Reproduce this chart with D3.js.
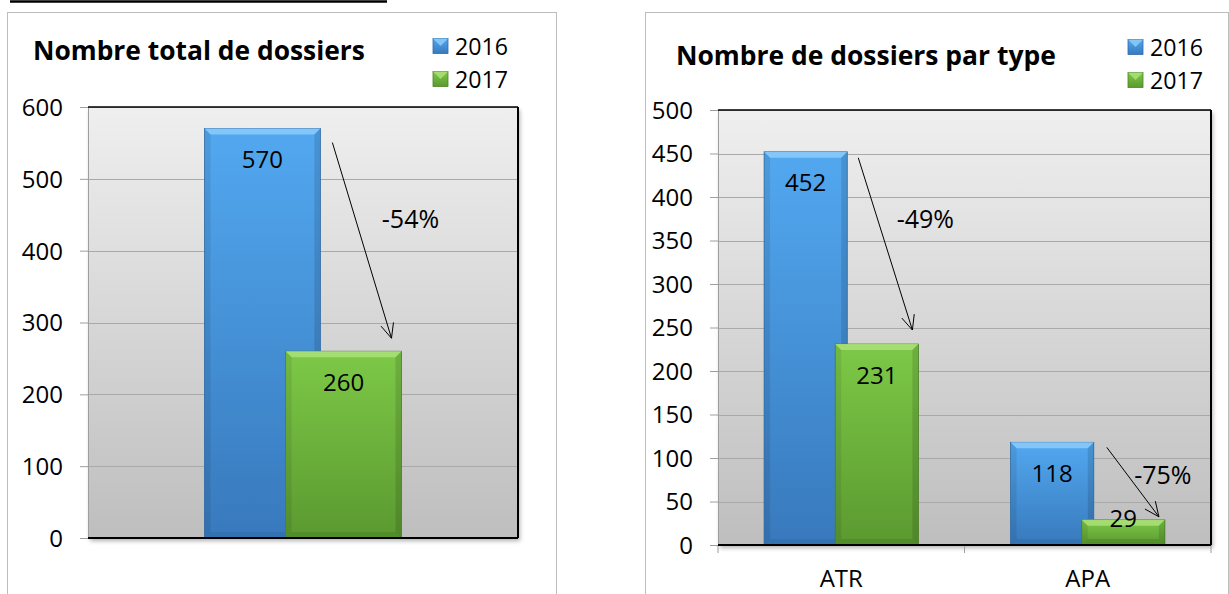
<!DOCTYPE html>
<html>
<head>
<meta charset="utf-8">
<script src="https://cdn.jsdelivr.net/npm/d3@7"></script>
<style>
  html, body { margin: 0; padding: 0; background: #fff; }
  svg { display: block; }
  text { font-family: "Open Sans", "Noto Sans", sans-serif; fill: #000; }
</style>
</head>
<body>
<svg id="chart" width="1229" height="594"></svg>
<script>
// ---------------- DATA ----------------
const years = ["2016", "2017"];

const totalTitle = "Nombre total de dossiers";
const totalCategories = ["Total"];
const total2016 = [570];
const total2017 = [260];
const totalTicks = [0, 100, 200, 300, 400, 500, 600];

const typeTitle = "Nombre de dossiers par type";
const typeCategories = ["ATR", "APA"];
const type2016 = [452, 118];
const type2017 = [231, 29];
const typeTicks = [0, 50, 100, 150, 200, 250, 300, 350, 400, 450, 500];

// ---------------- SETUP ----------------
const svg = d3.select("#chart");
const defs = svg.append("defs");

function vGrad(id, stops) {
  const g = defs.append("linearGradient").attr("id", id)
    .attr("x1", 0).attr("y1", 0).attr("x2", 0).attr("y2", 1);
  stops.forEach(([o, c]) => g.append("stop").attr("offset", o).attr("stop-color", c));
}
vGrad("plotBg", [[0, "#EFEFEF"], [1, "#BEBEBE"]]);
vGrad("blueG", [[0, "#52A8F0"], [1, "#3879BC"]]);
vGrad("greenG", [[0, "#7DC947"], [1, "#5B9930"]]);

const shadow = defs.append("filter").attr("id", "shadow")
  .attr("x", "-5%").attr("y", "-5%").attr("width", "115%").attr("height", "115%");
shadow.append("feDropShadow").attr("dx", 2).attr("dy", 3)
  .attr("stdDeviation", 2).attr("flood-color", "#000").attr("flood-opacity", 0.3);

const seriesStyle = [
  { grad: "url(#blueG)", top: "#8ECBFA", edge: "#2F6DAA", bottom: "#2E6BA6" },
  { grad: "url(#greenG)", top: "#ACE07A", edge: "#4C8427", bottom: "#477F24" }
];

// top decorative underline (cropped heading)
svg.append("line").attr("x1", 10).attr("x2", 387).attr("y1", 1.5).attr("y2", 1.5)
  .attr("stroke", "#000").attr("stroke-width", 2.5);

function fitText(sel, targetWidth, startSize) {
  sel.style("font-size", startSize + "px");
  const len = sel.node().getComputedTextLength();
  sel.style("font-size", (startSize * targetWidth / len) + "px");
}

function drawBar(g, x, yTop, w, yBase, st) {
  const h = yBase - yTop;
  const b = Math.min(6, h / 2, w / 2);
  g.append("rect").attr("x", x).attr("y", yTop).attr("width", w).attr("height", h)
    .attr("fill", st.grad).attr("stroke", st.edge).attr("stroke-width", 0.8);
  g.append("polygon").attr("points",
    [[x, yTop], [x + w, yTop], [x + w - b, yTop + b], [x + b, yTop + b]].map(p => p.join(",")).join(" "))
    .attr("fill", st.top).attr("opacity", 0.85);
  g.append("polygon").attr("points",
    [[x, yTop], [x + b, yTop + b], [x + b, yBase - b], [x, yBase]].map(p => p.join(",")).join(" "))
    .attr("fill", "#000").attr("opacity", 0.08);
  g.append("polygon").attr("points",
    [[x + w, yTop], [x + w - b, yTop + b], [x + w - b, yBase - b], [x + w, yBase]].map(p => p.join(",")).join(" "))
    .attr("fill", "#000").attr("opacity", 0.12);
  g.append("polygon").attr("points",
    [[x, yBase], [x + b, yBase - b], [x + w - b, yBase - b], [x + w, yBase]].map(p => p.join(",")).join(" "))
    .attr("fill", st.bottom).attr("opacity", 0.5);
}

function drawArrow(g, x1, y1, x2, y2) {
  g.append("line").attr("x1", x1).attr("y1", y1).attr("x2", x2).attr("y2", y2)
    .attr("stroke", "#000").attr("stroke-width", 1);
  const ang = Math.atan2(y2 - y1, x2 - x1);
  const L = 16, spread = 0.42;
  [ang + Math.PI - spread, ang + Math.PI + spread].forEach(a => {
    g.append("line").attr("x1", x2).attr("y1", y2)
      .attr("x2", x2 + L * Math.cos(a)).attr("y2", y2 + L * Math.sin(a))
      .attr("stroke", "#000").attr("stroke-width", 1);
  });
}

function drawChart(cfg) {
  const g = svg.append("g");
  g.append("rect").attr("x", cfg.frame[0] + 0.5).attr("y", cfg.frame[1] + 0.5)
    .attr("width", cfg.frame[2]).attr("height", cfg.frame[3])
    .attr("fill", "#fff").attr("stroke", "#BDBDBD").attr("stroke-width", 1);

  const [px0, px1, py0, py1] = cfg.plot;
  const y = d3.scaleLinear().domain([0, d3.max(cfg.ticks)]).range([py1, py0]);
  const x = d3.scaleBand().domain(cfg.categories).range([px0, px1])
    .paddingInner(cfg.gap).paddingOuter(cfg.gap / 2);
  const bw = x.bandwidth() / (2 - cfg.overlap);
  const offs = bw * (1 - cfg.overlap);

  g.append("rect").attr("x", px0).attr("y", py0).attr("width", px1 - px0).attr("height", py1 - py0)
    .attr("fill", "url(#plotBg)").attr("filter", "url(#shadow)");

  g.append("g").selectAll("line").data(cfg.ticks.filter(t => t > 0)).join("line")
    .attr("x1", px0).attr("x2", px1).attr("y1", d => Math.round(y(d)) + 0.5).attr("y2", d => Math.round(y(d)) + 0.5)
    .attr("stroke", "#A9A9A9").attr("stroke-width", 1);

  const ya = g.append("g").attr("transform", `translate(${px0},0)`)
    .call(d3.axisLeft(y).tickValues(cfg.ticks).tickSize(8).tickPadding(17).tickFormat(d3.format("d")));
  ya.select(".domain").attr("stroke", "#9E9E9E");
  ya.selectAll(".tick line").attr("stroke", "#9E9E9E");
  ya.selectAll(".tick text").style("font-size", "24px").style("font-family", "'Open Sans', sans-serif")
    .attr("fill", "#000").attr("dy", "0.35em");

  if (cfg.showCats) {
    const bounds = [px0].concat(cfg.categories.map(c => x(c) - x.step() * x.paddingInner() / 2 + x.step()));
    bounds[bounds.length - 1] = px1;
    g.append("g").selectAll("line").data(bounds).join("line")
      .attr("x1", d => d).attr("x2", d => d).attr("y1", py1).attr("y2", py1 + 8)
      .attr("stroke", "#9E9E9E");
    const xa = g.append("g").attr("transform", `translate(0,${py1})`)
      .call(d3.axisBottom(x).tickSize(0).tickPadding(25));
    xa.select(".domain").remove();
    xa.selectAll(".tick text").style("font-size", "24px").style("font-family", "'Open Sans', sans-serif")
      .attr("fill", "#000");
  }

  const series = [cfg.s2016, cfg.s2017];
  const bars = g.append("g");
  series.forEach((vals, si) => {
    cfg.categories.forEach((c, ci) => {
      drawBar(bars, x(c) + si * offs, y(vals[ci]), bw, y(0), seriesStyle[si]);
    });
  });

  g.append("line").attr("x1", px0).attr("x2", px1).attr("y1", py0).attr("y2", py0).attr("stroke", "#000").attr("stroke-width", 1.5);
  g.append("line").attr("x1", px1).attr("x2", px1).attr("y1", py0).attr("y2", py1).attr("stroke", "#000").attr("stroke-width", 2);
  g.append("line").attr("x1", px0).attr("x2", px1).attr("y1", py1).attr("y2", py1).attr("stroke", "#000").attr("stroke-width", 2);

  series.forEach((vals, si) => {
    cfg.categories.forEach((c, ci) => {
      const top = y(vals[ci]);
      const h = y(0) - top;
      const ly = h >= 50 ? top + 30 : top - 2;
      g.append("text").attr("x", x(c) + si * offs + bw / 2).attr("y", ly)
        .attr("text-anchor", "middle").attr("dominant-baseline", "central")
        .style("font-size", "24px").text(vals[ci]);
    });
  });

  cfg.categories.forEach((c, ci) => {
    const a = cfg.ann[ci];
    const bRight = x(c) + bw, gRight = x(c) + offs + bw;
    const bTop = y(cfg.s2016[ci]), gTop = y(cfg.s2017[ci]);
    drawArrow(g, bRight + a.sx, bTop + a.sy, gRight + a.ex, gTop + a.ey);
    const pct = Math.round((cfg.s2017[ci] - cfg.s2016[ci]) / cfg.s2016[ci] * 100);
    g.append("text").attr("x", gRight + a.lx).attr("y", bTop + a.ly)
      .attr("text-anchor", "middle").attr("dominant-baseline", "central")
      .style("font-size", "25px").text(pct + "%");
  });

  const t = g.append("text").attr("x", cfg.title[1]).attr("y", cfg.title[2])
    .attr("dominant-baseline", "central").style("font-weight", "bold").text(cfg.title[0]);
  fitText(t, cfg.title[3], 26);

  years.forEach((yr, i) => {
    const lx = cfg.legend[0], ly = cfg.legend[1] + i * 33;
    const st = seriesStyle[i];
    g.append("rect").attr("x", lx).attr("y", ly - 7.5).attr("width", 15).attr("height", 15)
      .attr("fill", st.grad).attr("stroke", st.edge).attr("stroke-width", 0.8);
    g.append("polygon").attr("points", `${lx},${ly - 7.5} ${lx + 15},${ly - 7.5} ${lx + 7.5},${ly}`)
      .attr("fill", st.top).attr("opacity", 0.85);
    const tt = g.append("text").attr("x", lx + 22).attr("y", ly)
      .attr("dominant-baseline", "central").text(yr);
    fitText(tt, 53, 23);
  });
}

drawChart({
  frame: [7, 12, 549, 600],
  plot: [88, 518, 107, 538],
  ticks: totalTicks,
  categories: totalCategories,
  showCats: false,
  s2016: total2016, s2017: total2017,
  gap: 0.542, overlap: 0.3,
  ann: [{ sx: 12, sy: 14, ex: -10, ey: -13, lx: 9, ly: 89 }],
  title: [totalTitle, 33, 50, 332],
  legend: [433, 46]
});

drawChart({
  frame: [645, 12, 583, 600],
  plot: [718, 1211, 110, 545],
  ticks: typeTicks,
  categories: typeCategories,
  showCats: true,
  s2016: type2016, s2017: type2017,
  gap: 0.374, overlap: 0.145,
  ann: [{ sx: 11, sy: 6, ex: -6, ey: -14, lx: 7, ly: 66 },
        { sx: 13, sy: 5, ex: -6, ey: -3, lx: -2, ly: 32 }],
  title: [typeTitle, 676, 55, 380],
  legend: [1128, 47]
});
</script>
</body>
</html>
